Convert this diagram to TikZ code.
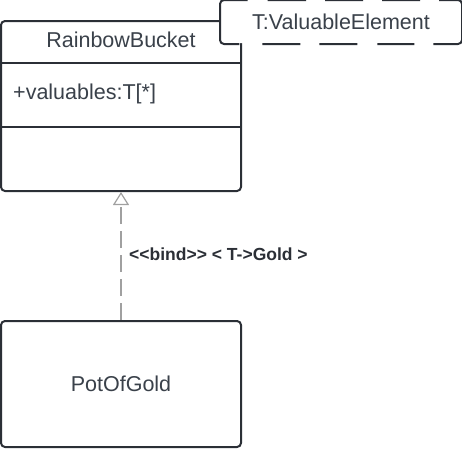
\documentclass[tikz,border=0pt]{standalone}
\usepackage{fontspec}
\setmainfont{Liberation Sans}
\newfontfamily\umlfont{Liberation Sans}
\usetikzlibrary{arrows.meta,positioning,calc}
\definecolor{umlline}{HTML}{2B2F36}
\definecolor{umltext}{HTML}{3A414A}
\definecolor{bindline}{HTML}{A0A0A0}

\begin{document}
\begin{tikzpicture}[x=1pt,y=-1pt,
    classbox/.style={draw=umlline,line width=2pt,rounded corners=4pt,fill=white,
        minimum width=240pt,inner sep=0pt,text=umltext,
        font=\umlfont\fontsize{21.5}{26}\selectfont},
    tparam/.style={classbox,draw=none,minimum height=42pt},
    tborder/.style={draw=umlline,line width=2pt,rounded corners=4pt,
        dash pattern=on 38pt off 19pt on 38pt off 19pt on 38pt off 19pt on 92pt
        off 19pt on 37pt off 20pt on 38pt off 19pt on 38pt off 23pt on 87pt off 20pt},
    umllabel/.style={inner sep=0pt,text=umltext,font=\umlfont\fontsize{21.5}{26}\selectfont},
    bindlbl/.style={inner sep=0pt,text=umlline,font=\umlfont\bfseries\fontsize{17.5}{20}\selectfont},
    bind/.style={draw=bindline,line width=1.5pt,dash pattern=on 17pt off 7pt,
        -{Triangle[open,width=16pt,length=13pt,line width=1.2pt]}}]
    \useasboundingbox (0,0) rectangle (462,448);
    % classes
    \node[classbox,minimum height=170pt] (bucket) at (121,106) {};
    \node[umllabel]              (bucketname) at (121,40) {RainbowBucket};
    \node[umllabel,anchor=west]  (attr)       at (13,94)  {+valuables:T[*]};
    \draw[umlline,line width=2pt] (bucket.west |- 0,63)  -- (bucket.east |- 0,63);
    \draw[umlline,line width=2pt] (bucket.west |- 0,127) -- (bucket.east |- 0,127);
    \node[tparam]                (param)      at (341,22) {T:ValuableElement};
    \draw[tborder] ($(param.north west)+(44,0)$) -- (param.north east)
        -- (param.south east) -- (param.south west) -- (param.north west) -- cycle;
    \node[classbox,minimum height=126pt] (pot) at (121,384) {PotOfGold};
    % binding
    \draw[bind] (pot.north) -- (bucket.south);
    \node[bindlbl,anchor=west]   (bindtext)   at (129,254) {<<bind>> < T->Gold >};
\end{tikzpicture}
\end{document}
